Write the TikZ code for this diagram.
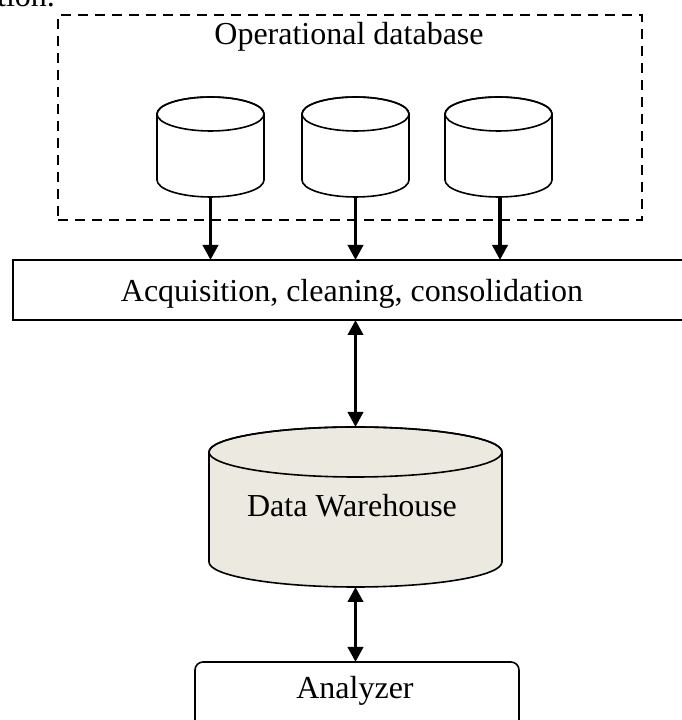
\documentclass[tikz,border=0pt]{standalone}
\usepackage{fontspec}
\setmainfont{Liberation Serif}
\usetikzlibrary{arrows.meta}
\definecolor{dwfill}{RGB}{236,234,224}
\tikzset{
  x=1pt, y=1pt,
  txt/.style={inner sep=0pt, anchor=base, font=\fontsize{32}{36}\selectfont},
  hold/.style={inner sep=0pt, outer sep=0pt, draw=none},
  flowarrow/.style={line width=3.7pt, -{Triangle[length=15pt,width=15pt]}},
  twoarrow/.style={line width=3.7pt, {Triangle[length=15pt,width=15pt]}-{Triangle[length=15pt,width=15pt]}},
  dashbox/.style={draw, line width=2.3pt, dash pattern=on 10pt off 7pt, inner sep=0pt, outer sep=0pt},
  plainbox/.style={draw, line width=1.6pt, inner sep=0pt, outer sep=0pt},
  cyl/.style={line width=1.6pt}
}
\newcommand{\mycyl}[6]{% cx, ytop, ybot, rx, ry, fill
  \filldraw[cyl, fill=#6] (#1-#4,#2) -- (#1-#4,#3)
    arc[start angle=180, end angle=360, x radius=#4pt, y radius=#5pt]
    -- (#1+#4,#2) arc[start angle=0, end angle=180, x radius=#4pt, y radius=#5pt] -- cycle;
  \draw[cyl] (#1,#2) ellipse[x radius=#4pt, y radius=#5pt];
}
\begin{document}
\begin{tikzpicture}
\useasboundingbox (0,0) rectangle (682,720);
\clip (0,0) rectangle (682,720);

% fragment of the surrounding text
\node[txt, anchor=base west] (frag) at (-3,713) {tion.};

% operational database group
\node[dashbox, minimum width=584pt, minimum height=205pt] (group) at (350,602.5) {};
\node[txt] (optitle) at (349,675) {Operational database};

\mycyl{210.5}{606}{540}{53.5}{17}{white}
\mycyl{355.5}{606}{540}{53.5}{17}{white}
\mycyl{498.5}{606}{540}{53.5}{17}{white}
\node[hold, minimum width=107pt, minimum height=100pt] (db1) at (210.5,573) {};
\node[hold, minimum width=107pt, minimum height=100pt] (db2) at (355.5,573) {};
\node[hold, minimum width=107pt, minimum height=100pt] (db3) at (498.5,573) {};

% acquisition box
\node[plainbox, minimum width=680pt, minimum height=60pt] (proc) at (353,430) {};
\node[txt] (proctext) at (352,418) {Acquisition, cleaning, consolidation};

% data warehouse
\mycyl{355.5}{268}{158}{146.5}{25}{dwfill}
\node[hold, minimum width=293pt, minimum height=160pt] (dw) at (355.5,213) {};
\node[txt] (dwtext) at (352,203) {Data Warehouse};

% analyzer
\node[plainbox, rounded corners=8pt, minimum width=324pt, minimum height=80pt] (an) at (357,18) {};
\node[txt] (antext) at (355,21) {Analyzer};

% connectors
\draw[flowarrow] (db1.south) -- (db1.south |- proc.north);
\draw[flowarrow] (db2.south) -- (db2.south |- proc.north);
\draw[flowarrow] ([xshift=1.5pt]db3.south) -- ([xshift=1.5pt]db3.south |- proc.north);
\draw[twoarrow] (proc.south -| dw.north) -- (dw.north);
\draw[twoarrow] (dw.south) -- (dw.south |- an.north);
\end{tikzpicture}
\end{document}
